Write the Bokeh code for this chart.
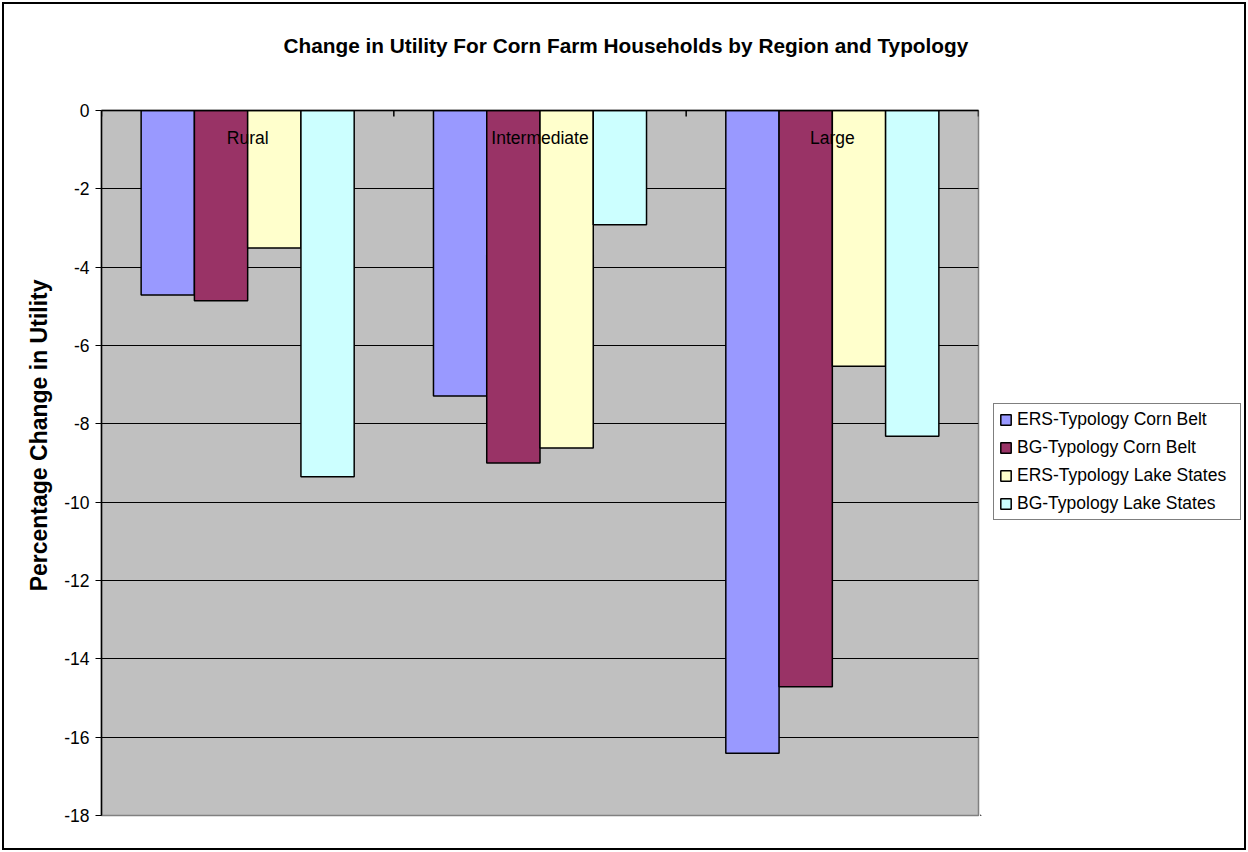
import numpy as np
from bokeh.plotting import figure
from bokeh.layouts import row
from bokeh.models import (Range1d, LinearAxis, FixedTicker, Legend, LegendItem,
                          Grid, Title, PrintfTickFormatter)
from bokeh.core.properties import value
from bokeh.embed import file_html
from bokeh.resources import INLINE

# ---- data ----
categories = ["Rural", "Intermediate", "Large"]
series_names = ["ERS-Typology Corn Belt", "BG-Typology Corn Belt",
                "ERS-Typology Lake States", "BG-Typology Lake States"]
ers_corn_belt = [-4.71, -7.29, -16.41]
bg_corn_belt = [-4.86, -9.00, -14.71]
ers_lake_states = [-3.51, -8.62, -6.53]
bg_lake_states = [-9.35, -2.92, -8.32]
series_values = [ers_corn_belt, bg_corn_belt, ers_lake_states, bg_lake_states]
colors = ["#9999FF", "#993366", "#FFFFCC", "#CCFFFF"]
y_ticks = list(range(-18, 1, 2))
title_text = "Change in Utility For Corn Farm Households by Region and Typology"
y_label = "Percentage Change in Utility"

FONT = "Liberation Sans"
FS = "17.5px"
H = 844          # height of the whole chart (inside the outer border)
TOP, BOTTOM = 106, 33

p = figure(width=976, height=H, x_range=Range1d(0, len(categories)),
           y_range=Range1d(-18, 0), output_backend="svg", toolbar_location=None,
           x_axis_location=None, y_axis_location=None)
p.title.text = ""
p.min_border_left = 97
p.min_border_right = 2
p.min_border_top = TOP
p.min_border_bottom = BOTTOM
p.background_fill_color = "#C0C0C0"
p.border_fill_color = "white"
p.outline_line_color = "#808080"
p.outline_line_width = 1.5
for g in p.grid:
    g.visible = False

# grid
grid = Grid(dimension=1, ticker=FixedTicker(ticks=y_ticks),
            grid_line_color="black", grid_line_width=1)
p.add_layout(grid)

# bars
n = len(series_values)
w = 0.1822
cat_x = np.arange(len(categories)) + 0.5
renderers = []
for i, vals in enumerate(series_values):
    xs = cat_x + (i - (n - 1) / 2) * w
    r = p.vbar(x=xs, width=w, top=0, bottom=vals, fill_color=colors[i],
               line_color="black", line_width=1.5)
    renderers.append(r)

# tick marks between categories on the zero line
bounds = np.arange(len(categories) + 1)
p.ray(x=bounds, y=[0] * len(bounds), length=6, length_units="screen",
      angle=-np.pi / 2, line_color="black", line_width=1.5)

# category labels near zero line
p.text(x=cat_x, y=[0] * len(categories), text=categories, y_offset=27,
       text_align="center", text_baseline="middle", text_color="black",
       text_font=value(FONT), text_font_size=FS)

# y axis
yaxis = LinearAxis(ticker=FixedTicker(ticks=y_ticks),
                   formatter=PrintfTickFormatter(format="%d"),
                   major_label_text_font=FONT, major_label_text_font_size=FS,
                   major_label_text_color="black",
                   major_label_standoff=6, major_tick_out=6, major_tick_in=0,
                   minor_tick_line_color=None, axis_line_color="black",
                   axis_line_width=1.5, major_tick_line_color="black")
p.add_layout(yaxis, "left")

# y axis title (vertical text placed in the left panel)
ytitle = Title(text=y_label, align="right", offset=169, vertical_align="middle",
               text_font=FONT, text_font_size="23px", text_font_style="bold",
               text_color="black", standoff=18)
p.add_layout(ytitle, "left")

# x axis line at the top (zero line), no ticks / labels
xaxis = LinearAxis(ticker=FixedTicker(ticks=[]), major_tick_in=0,
                   major_tick_out=0, minor_tick_line_color=None,
                   axis_line_color="black", axis_line_width=1.5,
                   major_label_standoff=0)
p.add_layout(xaxis, "above")

# spacer + title
spacer = Title(text=" ", text_font_size="1px", standoff=46)
p.add_layout(spacer, "above")
title = Title(text=title_text, align="left", offset=182, text_font=FONT,
              text_font_size="20.8px", text_font_style="bold",
              text_color="black", standoff=10)
p.add_layout(title, "above")

# legend figure on the right
p2 = figure(width=264, height=H, x_range=Range1d(0, 1), y_range=Range1d(0, 1),
            output_backend="svg", toolbar_location=None,
            x_axis_location=None, y_axis_location=None)
p2.title.text = ""
p2.min_border_left = 0
p2.min_border_right = 0
p2.min_border_top = TOP
p2.min_border_bottom = BOTTOM
p2.outline_line_color = None
p2.background_fill_color = "white"
p2.border_fill_color = "white"
for g in p2.grid:
    g.visible = False
dummies = []
for i in range(n):
    d = p2.vbar(x=[-10], top=[-10], bottom=[-11], width=1, fill_color=colors[i],
                line_color="black", line_width=1.5)
    dummies.append(d)

legend = Legend(items=[LegendItem(label=s, renderers=[d])
                       for s, d in zip(series_names, dummies)],
                location=(13, 295), padding=5, spacing=7,
                glyph_width=13, glyph_height=13, label_height=20,
                label_width=218, label_standoff=5,
                label_text_font=FONT, label_text_font_size=FS,
                label_text_color="black",
                border_line_color="black", border_line_width=1,
                background_fill_color="white", background_fill_alpha=1)
p2.add_layout(legend)

layout = row(p, p2, spacing=0)
layout.styles = {"margin": "4px 0 0 4px", "outline": "2px solid black",
                 "outline-offset": "0px"}

open("out.html", "w").write(file_html(layout, INLINE))
